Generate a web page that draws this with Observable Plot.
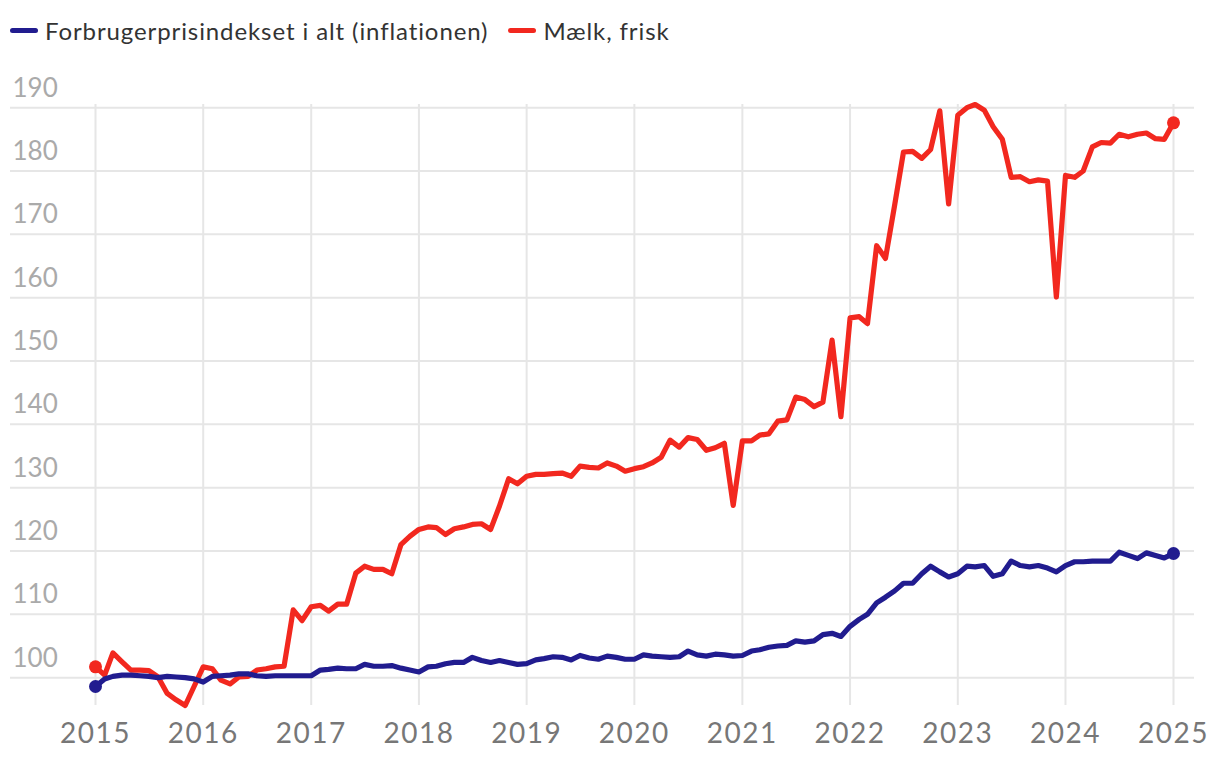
<!DOCTYPE html>
<html>
<head>
<meta charset="utf-8">
<script src="https://cdn.jsdelivr.net/npm/d3@7"></script>
<script src="https://cdn.jsdelivr.net/npm/@observablehq/plot@0.6"></script>
<style>
  html, body { margin: 0; padding: 0; background: #fff; }
  body { width: 1220px; height: 762px; overflow: hidden; font-family: Lato, "Open Sans", sans-serif; }
  #legend { height: 60px; display: flex; align-items: center; padding-left: 10px; box-sizing: border-box; font-size: 24px; letter-spacing: 0.9px; color: #333; }
  .item { display: flex; align-items: center; margin-right: 20px; }
  .sw { width: 28px; height: 5px; border-radius: 3px; margin-right: 7px; }
  #chart svg { display: block; }
</style>
</head>
<body>
<div id="legend"></div>
<div id="chart"></div>
<script>
const seriesNames = ["Forbrugerprisindekset i alt (inflationen)", "Mælk, frisk"];
const seriesColors = ["#211c8f", "#f2281f"];

// Monthly values Jan 2015 .. Jan 2025
const cpi = [
  98.6, 99.8, 100.2, 100.4, 100.4, 100.3, 100.2, 100.0, 100.2, 100.1, 100.0, 99.8,
  99.3, 100.2, 100.3, 100.4, 100.6, 100.6, 100.3, 100.2, 100.3, 100.3, 100.3, 100.3,
  100.3, 101.2, 101.3, 101.5, 101.4, 101.4, 102.1, 101.8, 101.8, 101.9, 101.5, 101.2,
  100.9, 101.7, 101.8, 102.2, 102.4, 102.4, 103.2, 102.7, 102.4, 102.7, 102.4, 102.1,
  102.2, 102.8, 103.0, 103.3, 103.2, 102.8, 103.5, 103.1, 102.9, 103.4, 103.2, 102.9,
  102.9, 103.6, 103.4, 103.3, 103.2, 103.3, 104.2, 103.6, 103.4, 103.7, 103.6, 103.4,
  103.5, 104.2, 104.4, 104.8, 105.0, 105.1, 105.8, 105.6, 105.8, 106.8, 107.0, 106.5,
  108.1, 109.2, 110.0, 111.8, 112.7, 113.7, 114.9, 114.9, 116.4, 117.6, 116.7, 115.9,
  116.4, 117.6, 117.5, 117.7, 116.0, 116.4, 118.4, 117.7, 117.5, 117.7, 117.3, 116.7,
  117.7, 118.3, 118.3, 118.4, 118.4, 118.4, 119.8, 119.3, 118.8, 119.7, 119.3, 118.9,
  119.6
];
const milk = [
  101.7, 100.4, 103.9, 102.5, 101.2, 101.2, 101.1, 100.1, 97.5, 96.5, 95.6, 98.6,
  101.7, 101.4, 99.6, 99.0, 100.1, 100.2, 101.2, 101.4, 101.7, 101.8, 110.7, 109.0,
  111.2, 111.4, 110.5, 111.6, 111.6, 116.5, 117.6, 117.1, 117.1, 116.4, 121.0, 122.3,
  123.4, 123.8, 123.7, 122.6, 123.5, 123.8, 124.2, 124.3, 123.4, 127.1, 131.4, 130.6,
  131.8, 132.1, 132.1, 132.2, 132.3, 131.8, 133.4, 133.2, 133.1, 133.9, 133.4, 132.6,
  133.0, 133.3, 133.9, 134.8, 137.5, 136.4, 137.9, 137.6, 135.9, 136.3, 137.0, 127.2,
  137.4, 137.4, 138.3, 138.5, 140.5, 140.7, 144.3, 143.9, 142.8, 143.5, 153.3, 141.2,
  156.8, 157.0, 155.9, 168.2, 166.2, 174.6, 183.0, 183.1, 182.0, 183.4, 189.5, 174.8,
  188.8, 190.0, 190.5, 189.6, 187.0, 185.0, 179.0, 179.1, 178.3, 178.6, 178.4, 160.1,
  179.3, 179.0, 180.0, 183.8, 184.5, 184.4, 185.8, 185.4, 185.8, 186.0, 185.1, 185.0,
  187.6
];
const yTicks = [100, 110, 120, 130, 140, 150, 160, 170, 180, 190];
const yearTicks = [2015, 2016, 2017, 2018, 2019, 2020, 2021, 2022, 2023, 2024, 2025];

const months = d3.utcMonths(new Date(Date.UTC(2015, 0, 1)), new Date(Date.UTC(2025, 1, 1)));
const rows = [];
[milk, cpi].forEach((vals, k) => {
  const name = k === 0 ? seriesNames[1] : seriesNames[0];
  vals.forEach((v, i) => rows.push({date: months[i], value: v, series: name}));
});
const ends = rows.filter(r => +r.date === +months[0] || +r.date === +months[months.length - 1]);
const years = yearTicks.map(y => new Date(Date.UTC(y, 0, 1)));

// legend
const legend = document.getElementById("legend");
seriesNames.forEach((n, i) => {
  const it = document.createElement("div");
  it.className = "item";
  it.innerHTML = `<span class="sw" style="background:${seriesColors[i]}"></span><span>${n}</span>`;
  legend.appendChild(it);
});

const chart = Plot.plot({
  width: 1220,
  height: 702,
  marginLeft: 95,
  marginRight: 47,
  marginTop: 44,
  marginBottom: 57,
  style: {fontFamily: "Lato, sans-serif", background: "#fff"},
  x: {type: "utc", domain: [years[0], years[years.length - 1]], axis: null},
  y: {domain: d3.extent(rows, d => d.value), axis: null},
  color: {domain: seriesNames, range: seriesColors},
  marks: [
    Plot.gridX(years, {stroke: "#e6e6e6", strokeOpacity: 1, strokeWidth: 2}),
    Plot.ruleY(yTicks, {stroke: "#e6e6e6", strokeWidth: 2, insetLeft: -85, insetRight: -21}),
    Plot.text(yTicks, {y: d => d, text: d => String(d), frameAnchor: "left", dx: -83, dy: -11,
      textAnchor: "start", lineAnchor: "bottom", fill: "#aaaaaa", fontSize: 26, style: "letter-spacing:1.6px"}),
    Plot.axisX(years, {tickFormat: "%Y", tickSize: 0, tickPadding: 18, fontSize: 28, color: "#777", stroke: null}),
    Plot.line(rows, {x: "date", y: "value", z: "series", stroke: "series", strokeWidth: 5.2,
      strokeLinejoin: "round", strokeLinecap: "round"}),
    Plot.dot(ends, {x: "date", y: "value", fill: "series", r: 6.5})
  ]
});
chart.querySelectorAll("g[aria-label='x-axis tick label'] text").forEach(t => t.style.letterSpacing = "1.5px");
document.getElementById("chart").appendChild(chart);
</script>
</body>
</html>
